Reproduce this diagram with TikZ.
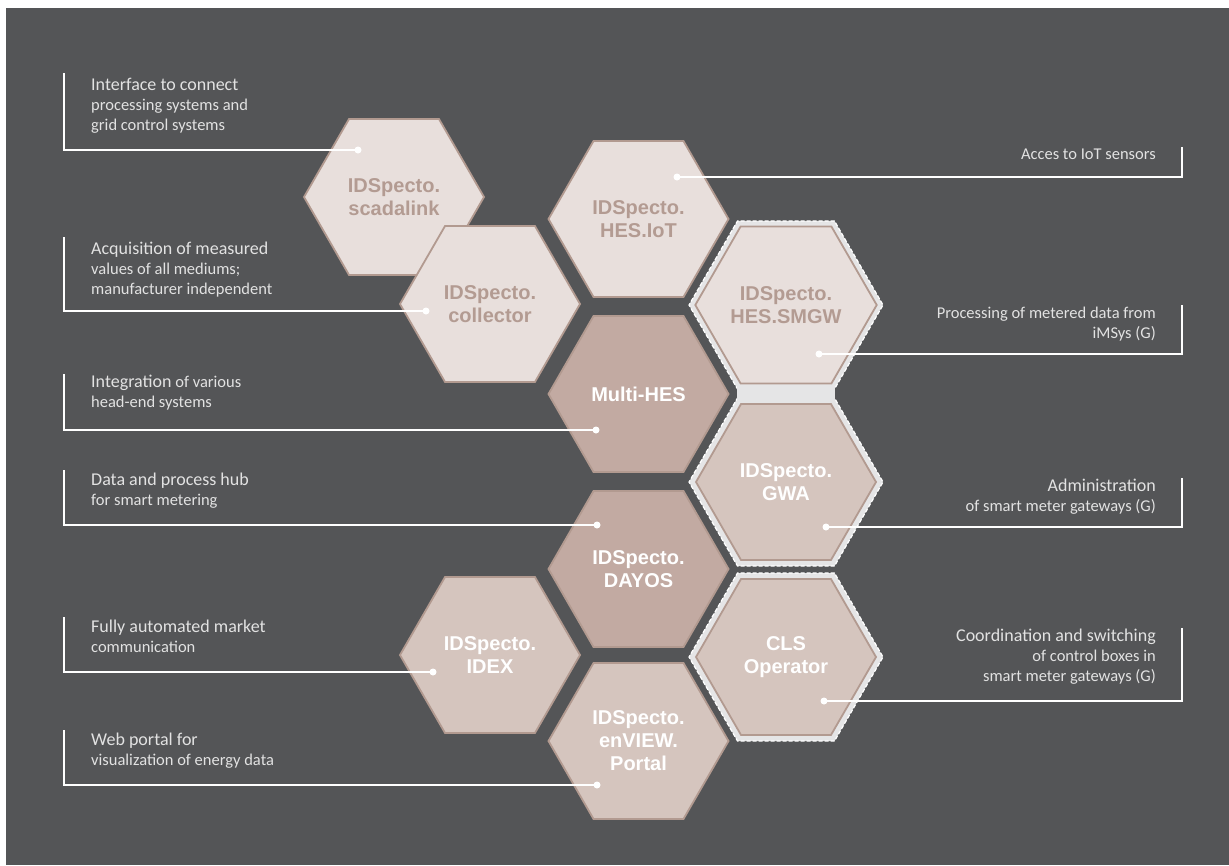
\documentclass[tikz,border=0pt]{standalone}
\usepackage{fontspec}
\setmainfont{Carlito}
\newfontfamily\hexfont{Liberation Sans}
\usetikzlibrary{shapes.geometric}

\definecolor{bgdark}{HTML}{545557}
\definecolor{hexlight}{HTML}{E8DFDC}
\definecolor{hexmid}{HTML}{D5C5BE}
\definecolor{hexdark}{HTML}{C2AAA2}
\definecolor{hexline}{HTML}{B29A90}
\definecolor{hextext}{HTML}{B39B92}
\definecolor{ringgray}{HTML}{E5E5E6}
\definecolor{notetext}{HTML}{E2E2E2}

\newcommand{\leadline}[1]{{\fontsize{18}{20}\selectfont #1}}

\begin{document}
\begin{tikzpicture}[
    x=1pt, y=-1pt,
    hex/.style={regular polygon, regular polygon sides=6, minimum size=180pt, inner sep=0pt, draw=hexline, line width=1.8pt, align=center, font=\hexfont\bfseries\fontsize{20}{23}\selectfont},
    hexa/.style={hex, fill=hexlight, text=hextext},
    hexb/.style={hex, fill=hexdark, text=white},
    hexc/.style={hex, fill=hexmid, text=white},
    ring/.style={regular polygon, regular polygon sides=6, minimum size=194pt, inner sep=0pt, fill=ringgray, draw=white, line width=1.2pt, dash pattern=on 4pt off 2pt},
    dot/.style={circle, fill=white, inner sep=0pt, minimum size=7pt},
    note/.style={text=notetext, inner sep=0pt, font=\fontsize{16.5}{20}\selectfont},
    lnote/.style={note, anchor=north west, align=left},
    rnote/.style={note, anchor=north east, align=right},
    link/.style={draw=white, line width=1.4pt}
]
    \fill[white] (0,0) rectangle (1229,865);
    \fill[bgdark] (6,8) rectangle (1229,865);
    \useasboundingbox (0,0) rectangle (1229,865);

    \node[ring] (ring-smgw) at (786,305) {};
    \node[ring] (ring-gwa) at (786,482) {};
    \node[ring] (ring-cls) at (786,657) {};
    \fill[ringgray] (737,386) rectangle (835,401);

    \node[hexa] (scadalink) at (394,197) {IDSpecto.\\scadalink};
    \node[hexa] (hesiot) at (638.5,219) {IDSpecto.\\HES.IoT};
    \node[hexa] (collector) at (490,304) {IDSpecto.\\collector};
    \node[hexa] (hessmgw) at (786,305) {IDSpecto.\\HES.SMGW};
    \node[hexb] (multihes) at (638.5,394) {Multi-HES};
    \node[hexc] (gwa) at (786,482) {IDSpecto.\\GWA};
    \node[hexb] (dayos) at (638.5,569) {IDSpecto.\\DAYOS};
    \node[hexc] (idex) at (490,655) {IDSpecto.\\IDEX};
    \node[hexc] (cls) at (786,657) {CLS\\Operator};
    \node[hexc] (portal) at (638.5,741) {IDSpecto.\\enVIEW.\\Portal};

    \node[lnote] (n-scadalink) at (91,78) {\leadline{Interface to connect}\\processing systems and\\grid control systems};
    \node[lnote] (n-collector) at (91,242) {\leadline{Acquisition of measured}\\values of all mediums;\\manufacturer independent};
    \node[lnote] (n-multihes) at (91,375) {\leadline{Integration} of various\\head-end systems};
    \node[lnote] (n-dayos) at (91,473) {\leadline{Data and process hub}\\for smart metering};
    \node[lnote] (n-idex) at (91,620) {\leadline{Fully automated market}\\communication};
    \node[lnote] (n-portal) at (91,733) {\leadline{Web portal for}\\visualization of energy data};
    \node[rnote] (n-hesiot) at (1156,149) {Acces to IoT sensors};
    \node[rnote] (n-hessmgw) at (1156,307) {Processing of metered data from\\iMSys (G)};
    \node[rnote] (n-gwa) at (1156,479) {\leadline{Administration}\\of smart meter gateways (G)};
    \node[rnote] (n-cls) at (1156,629) {\leadline{Coordination and switching}\\of control boxes in\\smart meter gateways (G)};

    \node[dot] (d-scadalink) at (358,150) {};
    \node[dot] (d-collector) at (426,311) {};
    \node[dot] (d-multihes) at (596,430) {};
    \node[dot] (d-dayos) at (597,525) {};
    \node[dot] (d-idex) at (433,672) {};
    \node[dot] (d-portal) at (597,785) {};
    \node[dot] (d-hesiot) at (677,177) {};
    \node[dot] (d-hessmgw) at (819,354) {};
    \node[dot] (d-gwa) at (826,527) {};
    \node[dot] (d-cls) at (824,701) {};

    \coordinate (c-scadalink) at (64,73);
    \coordinate (c-collector) at (64,237);
    \coordinate (c-multihes) at (64,374);
    \coordinate (c-dayos) at (64,470);
    \coordinate (c-idex) at (64,617);
    \coordinate (c-portal) at (64,730);
    \coordinate (c-hesiot) at (1182,147);
    \coordinate (c-hessmgw) at (1182,305);
    \coordinate (c-gwa) at (1182,478);
    \coordinate (c-cls) at (1182,628);

    \draw[link] (c-scadalink) |- (d-scadalink.center);
    \draw[link] (c-collector) |- (d-collector.center);
    \draw[link] (c-multihes) |- (d-multihes.center);
    \draw[link] (c-dayos) |- (d-dayos.center);
    \draw[link] (c-idex) |- (d-idex.center);
    \draw[link] (c-portal) |- (d-portal.center);
    \draw[link] (c-hesiot) |- (d-hesiot.center);
    \draw[link] (c-hessmgw) |- (d-hessmgw.center);
    \draw[link] (c-gwa) |- (d-gwa.center);
    \draw[link] (c-cls) |- (d-cls.center);
\end{tikzpicture}
\end{document}
